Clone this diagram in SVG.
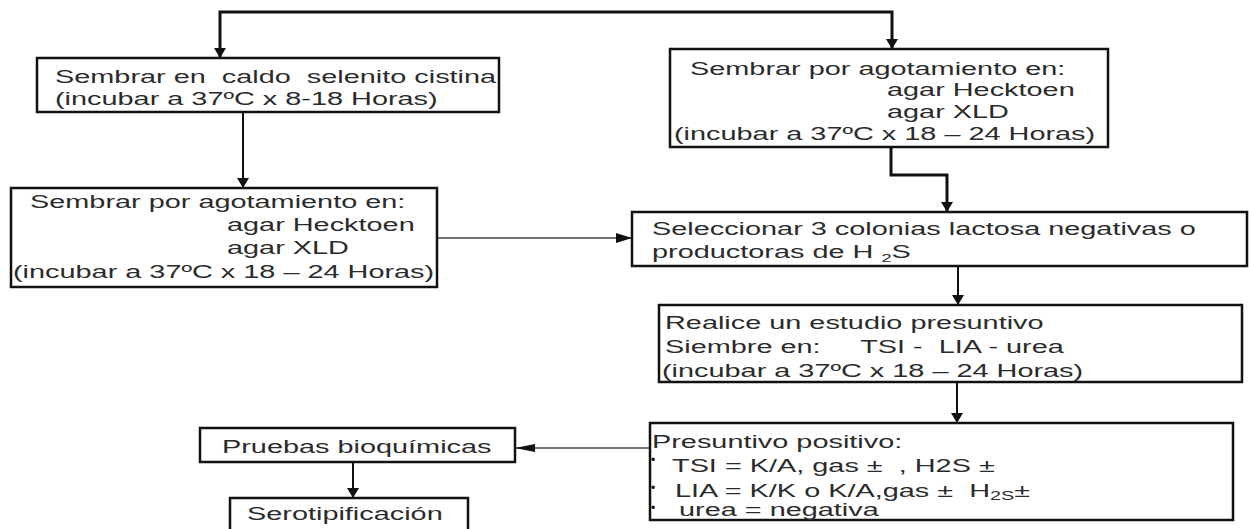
<svg xmlns="http://www.w3.org/2000/svg" width="1249" height="529" viewBox="0 0 1249 529">
<style>
.box{fill:#fff;stroke:#111;stroke-width:2.5}
.t{font-family:"Liberation Sans",Arial,sans-serif;font-size:17.5px;fill:#2b2b2b;white-space:pre}
.b{font-family:"Liberation Sans",Arial,sans-serif;font-size:12px;fill:#111}
.c{fill:none;stroke:#111;stroke-width:2}
.thick{stroke-width:3}
.thin{stroke:#444;stroke-width:1.6}
</style>
<defs>
<marker id="arr" viewBox="0 0 10 12" refX="10" refY="6" markerWidth="10" markerHeight="12" markerUnits="userSpaceOnUse" orient="auto"><path d="M0,0 L10,6 L0,12 z" fill="#111"/></marker>
<marker id="arrL" viewBox="0 0 16 10" refX="16" refY="5" markerWidth="16" markerHeight="10" markerUnits="userSpaceOnUse" orient="auto"><path d="M0,0 L16,5 L0,10 z" fill="#111"/></marker>
<marker id="arrN" viewBox="0 0 20 8" refX="20" refY="4" markerWidth="20" markerHeight="8" markerUnits="userSpaceOnUse" orient="auto"><path d="M0,0 L20,4 L0,8 z" fill="#111"/></marker>
</defs>
<rect width="1249" height="529" fill="#fff"/>
<g id="connectors">
<path class="c thick" d="M556,12 H220 V58" marker-end="url(#arr)"/>
<path class="c thick" d="M556,12 H892 V49" marker-end="url(#arr)"/>
<path class="c" d="M243,112 V188" marker-end="url(#arr)"/>
<path class="c thick" d="M891,147 V175 H947 V212" marker-end="url(#arr)"/>
<path class="c thin" d="M437,238 H632" marker-end="url(#arrL)"/>
<path class="c" d="M958,266 V305" marker-end="url(#arr)"/>
<path class="c" d="M957,382 V423" marker-end="url(#arr)"/>
<path class="c thin" d="M650,448 H515" marker-end="url(#arrN)"/>
<path class="c" d="M353,462 V498" marker-end="url(#arr)"/>
</g>
<g id="n1">
<rect class="box" x="37" y="58" width="462" height="54"/>
<text class="t" transform="translate(55 83) scale(1.65 1)">Sembrar en  caldo  selenito cistina</text>
<text class="t" transform="translate(55 105) scale(1.65 1)">(incubar a 37ºC x 8-18 Horas)</text>
</g>
<g id="n2">
<rect class="box" x="670" y="49" width="438" height="98"/>
<text class="t" transform="translate(690 75) scale(1.65 1)">Sembrar por agotamiento en:</text>
<text class="t" transform="translate(887 96) scale(1.65 1)">agar Hecktoen</text>
<text class="t" transform="translate(887 118) scale(1.65 1)">agar XLD</text>
<text class="t" transform="translate(674 140) scale(1.65 1)">(incubar a 37ºC x 18 – 24 Horas)</text>
</g>
<g id="n3">
<rect class="box" x="11" y="188" width="426" height="99"/>
<text class="t" transform="translate(30 208) scale(1.65 1)">Sembrar por agotamiento en:</text>
<text class="t" transform="translate(227 231) scale(1.65 1)">agar Hecktoen</text>
<text class="t" transform="translate(227 254) scale(1.65 1)">agar XLD</text>
<text class="t" transform="translate(13 278) scale(1.65 1)">(incubar a 37ºC x 18 – 24 Horas)</text>
</g>
<g id="n4">
<rect class="box" x="632" y="212" width="615" height="54"/>
<text class="t" transform="translate(652 235) scale(1.65 1)">Seleccionar 3 colonias lactosa negativas o</text>
<text class="t" transform="translate(652 258) scale(1.65 1)">productoras de H <tspan font-size="11" dy="4">2</tspan><tspan dy="-4">S</tspan></text>
</g>
<g id="n5">
<rect class="box" x="659" y="305" width="583" height="77"/>
<text class="t" transform="translate(665 329) scale(1.65 1)">Realice un estudio presuntivo</text>
<text class="t" transform="translate(665 353) scale(1.65 1)">Siembre en:     TSI -  LIA - urea</text>
<text class="t" transform="translate(662 377) scale(1.65 1)">(incubar a 37ºC x 18 – 24 Horas)</text>
</g>
<g id="n6">
<rect class="box" x="650" y="423" width="583" height="97"/>
<text class="t" transform="translate(652 448) scale(1.65 1)">Presuntivo positivo:</text>
<text class="b" x="651" y="464">•</text>
<text class="t" transform="translate(672 472) scale(1.65 1)">TSI = K/A, gas ±  , H2S ±</text>
<text class="b" x="651" y="492">•</text>
<text class="t" transform="translate(675 497) scale(1.65 1)">LIA = K/K o K/A,gas ±  H<tspan font-size="12" dy="3">2S</tspan><tspan dy="-3">±</tspan></text>
<text class="b" x="651" y="512">•</text>
<text class="t" transform="translate(679 516) scale(1.65 1)">urea = negativa</text>
</g>
<g id="n7">
<rect class="box" x="200" y="428" width="315" height="34"/>
<text class="t" transform="translate(222 453) scale(1.65 1)">Pruebas bioquímicas</text>
</g>
<g id="n8">
<rect class="box" x="230" y="498" width="238" height="45"/>
<text class="t" transform="translate(247 520) scale(1.65 1)">Serotipificación</text>
</g>
</svg>
